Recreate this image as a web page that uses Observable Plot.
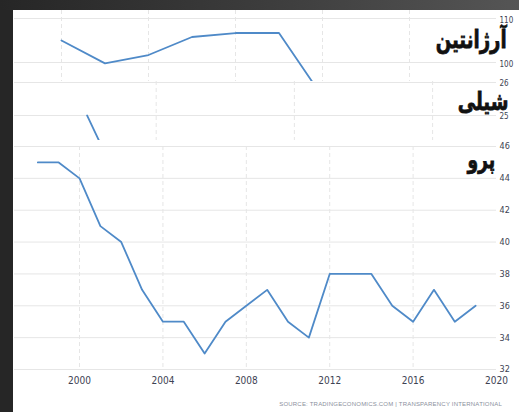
<!DOCTYPE html>
<html><head><meta charset="utf-8">
<script src="https://cdn.jsdelivr.net/npm/d3@7"></script>
<script src="https://cdn.jsdelivr.net/npm/@observablehq/plot@0.6"></script>
<style>
body{margin:0;background:#fff;width:519px;height:412px;overflow:hidden;position:relative;font-family:"Liberation Sans",sans-serif}
#frameL{position:absolute;left:0;top:0;width:13px;height:412px;background:#262626}
#frameT{position:absolute;left:0;top:0;width:519px;height:10px;background:linear-gradient(to right,#262626,#3c3c3c 50%,#555 100%)}
.panel{position:absolute;left:0}
.panel svg{overflow:visible}
.lbl{position:absolute;direction:rtl;font-family:"DejaVu Sans",sans-serif;font-weight:bold;color:#111;white-space:nowrap;line-height:1;-webkit-text-stroke:0.6px #111;transform-origin:right top;transform:scale(0.95,1.3)}
#src{position:absolute;right:17px;top:401px;font-size:6px;letter-spacing:0.2px;color:#8a8f9c;font-family:"Liberation Sans",sans-serif;white-space:nowrap}
</style></head><body>
<div id="frameL"></div><div id="frameT"></div>
<div class="panel" id="p1" style="top:10px"></div>
<div class="panel" id="p2" style="top:81px"></div>
<div class="panel" id="p3" style="top:140px"></div>
<div class="lbl" id="l1" style="right:12px;top:27px;font-size:19px">آرژانتین</div>
<div class="lbl" id="l2" style="right:11px;top:89px;font-size:19px">شیلی</div>
<div class="lbl" id="l3" style="right:24px;top:148px;font-size:18px">پرو</div>
<div id="src">SOURCE: TRADINGECONOMICS.COM | TRANSPARENCY INTERNATIONAL</div>
<script>
// Argentina
const argYears = [2000, 2002, 2004, 2006, 2008, 2010, 2012];
const argValues = [105, 99.8, 101.7, 105.8, 106.7, 106.7, 92.2];
const argTicks = [100, 110];
// Chile
const chlYears = [2002, 2003];
const chlValues = [25, 22.8];
const chlTicks = [25, 26];
// Peru
const perYears = [1998,1999,2000,2001,2002,2003,2004,2005,2006,2007,2008,2009,2010,2011,2012,2013,2014,2015,2016,2017,2018,2019];
const perValues = [45,45,44,41,40,37,35,35,33,35,36,37,35,34,38,38,38,36,35,37,35,36];
const perTicks = [32,34,36,38,40,42,44,46];
const yearTicks = [2000,2004,2008,2012,2016,2020];
const gridYears = [2000,2004,2008,2012,2016];

const lineColor = "#4f8ac8";
const gridColor = "#e6e6e6";
const labelColor = "#3d4252";
const fontFam = "'Liberation Sans Narrow','DejaVu Sans Condensed',sans-serif";

const arg = argYears.map((y,i)=>({year:y, value:argValues[i]}));
const chl = chlYears.map((y,i)=>({year:y, value:chlValues[i]}));
const per = perYears.map((y,i)=>({year:y, value:perValues[i]}));

const common = {width:519, marginLeft:14, marginRight:23, style:{background:"transparent", color:labelColor, fontFamily:fontFam, overflow:"visible"}};

const p1 = Plot.plot({
  ...common, height:71, marginTop:0, marginBottom:0,
  x:{domain:[1997.84,2020], axis:null},
  y:{domain:[95.68,111.82], axis:null},
  marks:[
    Plot.gridY(argTicks,{stroke:gridColor, strokeOpacity:1}),
    Plot.gridX(gridYears,{stroke:gridColor, strokeOpacity:1, strokeDasharray:"4,3"}),
    Plot.axisY(argTicks,{anchor:"right", tickSize:0, tickPadding:3, fontSize:8, dy:2, label:null}),
    Plot.line(arg,{x:"year", y:"value", stroke:lineColor, strokeWidth:1.8, clip:true})
  ]
});
document.getElementById("p1").appendChild(p1);

const p2 = Plot.plot({
  ...common, height:59, marginTop:0, marginBottom:0,
  x:{domain:[1999.9,2013.85], axis:null},
  y:{domain:[24.242,26.03], axis:null},
  marks:[
    Plot.gridY(chlTicks,{stroke:gridColor, strokeOpacity:1}),
    Plot.gridX([2004,2008,2012],{stroke:gridColor, strokeOpacity:1, strokeDasharray:"4,3"}),
    Plot.axisY(chlTicks,{anchor:"right", tickSize:0, tickPadding:3, fontSize:8, dy:1, label:null}),
    Plot.line(chl,{x:"year", y:"value", stroke:lineColor, strokeWidth:1.8, clip:true})
  ]
});
document.getElementById("p2").appendChild(p2);

const p3 = Plot.plot({
  ...common, height:252, marginTop:6, marginBottom:23,
  x:{domain:[1996.88,2020], axis:null},
  y:{domain:[32,46], axis:null},
  marks:[
    Plot.gridY(perTicks,{stroke:gridColor, strokeOpacity:1}),
    Plot.gridX(gridYears,{stroke:gridColor, strokeOpacity:1, strokeDasharray:"4,3"}),
    Plot.axisY(perTicks,{anchor:"right", tickSize:0, tickPadding:3, fontSize:9, label:null}),
    Plot.axisX(yearTicks,{anchor:"bottom", tickSize:0, tickPadding:7, fontSize:10, tickFormat:d=>String(d), label:null}),
    Plot.line(per,{x:"year", y:"value", stroke:lineColor, strokeWidth:1.8})
  ]
});
document.getElementById("p3").appendChild(p3);
</script>
</body></html>
